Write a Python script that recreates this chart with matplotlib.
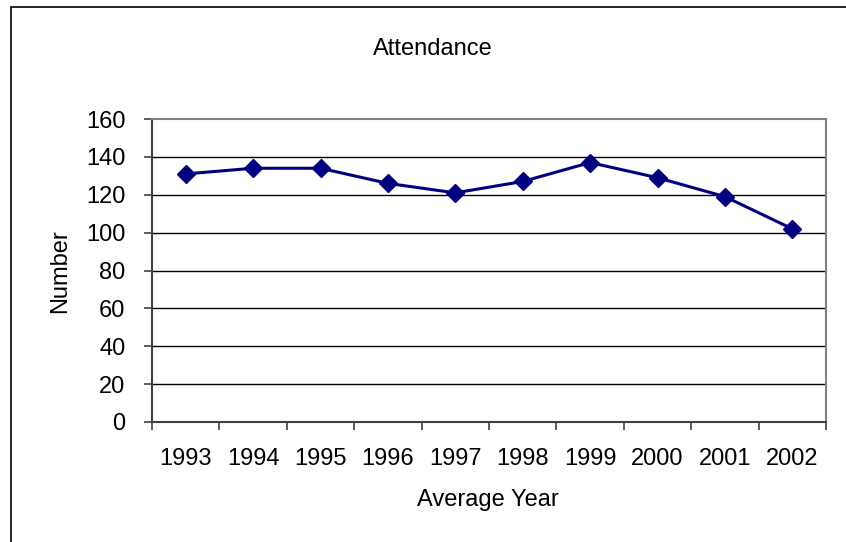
import matplotlib
matplotlib.use("Agg")
import matplotlib.pyplot as plt
from matplotlib.patches import Rectangle

years = ["1993", "1994", "1995", "1996", "1997", "1998", "1999", "2000", "2001", "2002"]
attendance = [131, 134, 134, 126, 121, 127, 137, 129, 119, 102]
yticks = [0, 20, 40, 60, 80, 100, 120, 140, 160]

W, H = 846, 542
plt.rcParams['font.family'] = ['Liberation Sans', 'DejaVu Sans']
fig = plt.figure(figsize=(W / 100, H / 100), dpi=100)

# outer chart frame
fig.patches.append(Rectangle((11 / W, -0.1), 1.2, 1 - 7 / H + 0.1, transform=fig.transFigure,
                             fill=False, edgecolor='black', linewidth=1.2))

ax = fig.add_axes([152 / W, 1 - 422 / H, (826 - 152) / W, (422 - 119) / H])
x = list(range(len(years)))
ax.plot(x, attendance, color='#000080', linewidth=2.2, marker='D', markersize=9,
        markerfacecolor='#000080', markeredgecolor='#000080', zorder=3)

ax.set_xlim(-0.5, len(years) - 0.5)
ax.set_ylim(0, 160)
ax.set_yticks(yticks)
ax.set_yticklabels([str(v) for v in yticks], fontsize=17)
ax.set_xticks(x)
ax.set_xticklabels(years, fontsize=17)
ax.set_xticks([i - 0.5 for i in range(len(years) + 1)], minor=True)
ax.tick_params(axis='x', which='major', length=0, pad=19)
ax.tick_params(axis='x', which='minor', length=6, width=1.2, color='#404040')
ax.tick_params(axis='y', which='major', length=6, width=1.2, color='#404040', pad=13)

for v in yticks[1:-1]:
    ax.axhline(v, color='black', linewidth=1.0, zorder=1)

ax.spines['left'].set_color('#404040')
ax.spines['left'].set_linewidth(1.5)
ax.spines['bottom'].set_color('#404040')
ax.spines['bottom'].set_linewidth(1.5)
ax.spines['top'].set_color('#808080')
ax.spines['top'].set_linewidth(1.5)
ax.spines['right'].set_color('#808080')
ax.spines['right'].set_linewidth(1.5)

fig.text(433 / W, 1 - 49 / H, "Attendance", ha='center', va='center', fontsize=17)
fig.text(488 / W, 1 - 500 / H, "Average Year", ha='center', va='center', fontsize=17)
fig.text(60 / W, 1 - 271 / H, "Number", ha='center', va='center', rotation=90, fontsize=17)

fig.savefig("out.png", dpi=100)
